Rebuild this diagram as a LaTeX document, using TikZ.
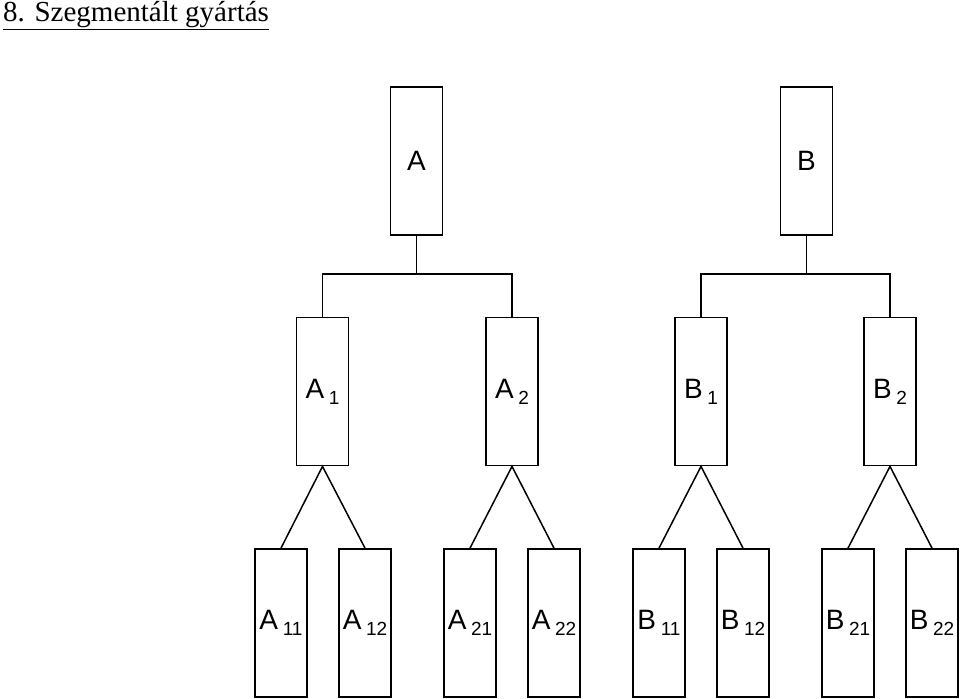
\documentclass[tikz,border=0pt]{standalone}
\usepackage{fontspec}
\setmainfont{Liberation Sans}
\newfontfamily\serif{Liberation Serif}
\newcommand{\lab}[2]{#1\,{\fontsize{19}{20}\selectfont\raisebox{-6pt}{#2}}}
\begin{document}
\begin{tikzpicture}[x=1pt,y=-1pt,
  bx/.style={draw,line width=1.8pt,minimum width=52pt,minimum height=148pt,inner sep=0pt,font=\fontsize{28}{30}\selectfont},
  ln/.style={line width=1.5pt}]
\useasboundingbox (0,0) rectangle (960,698);
\node[anchor=north west,inner sep=0pt,font=\serif\fontsize{29}{31}\selectfont] (t) at (3,1) {\underline{8. Szegmentált gyártás}};
\node[bx] (A) at (416.5,161) {A};
\node[bx] (B) at (806.5,161) {B};
\node[bx] (A1) at (322.5,391.5) {\lab{A}{1}};
\node[bx] (A2) at (512,391.5) {\lab{A}{2}};
\node[bx] (B1) at (701,391.5) {\lab{B}{1}};
\node[bx] (B2) at (890,391.5) {\lab{B}{2}};
\node[bx] (A11) at (281,623) {\lab{A}{11}};
\node[bx] (A12) at (365,623) {\lab{A}{12}};
\node[bx] (A21) at (470,623) {\lab{A}{21}};
\node[bx] (A22) at (554,623) {\lab{A}{22}};
\node[bx] (B11) at (659,623) {\lab{B}{11}};
\node[bx] (B12) at (743,623) {\lab{B}{12}};
\node[bx] (B21) at (848,623) {\lab{B}{21}};
\node[bx] (B22) at (932,623) {\lab{B}{22}};
\draw[ln] (A.south) -- ++(0,38) -| (A1.north);
\draw[ln] (A.south) -- ++(0,38) -| (A2.north);
\draw[ln] (B.south) -- ++(0,38) -| (B1.north);
\draw[ln] (B.south) -- ++(0,38) -| (B2.north);
\foreach \p/\a/\b in {A1/A11/A12,A2/A21/A22,B1/B11/B12,B2/B21/B22}{
  \draw[ln] (\a.north) -- (\p.south) -- (\b.north);
}
\end{tikzpicture}
\end{document}
